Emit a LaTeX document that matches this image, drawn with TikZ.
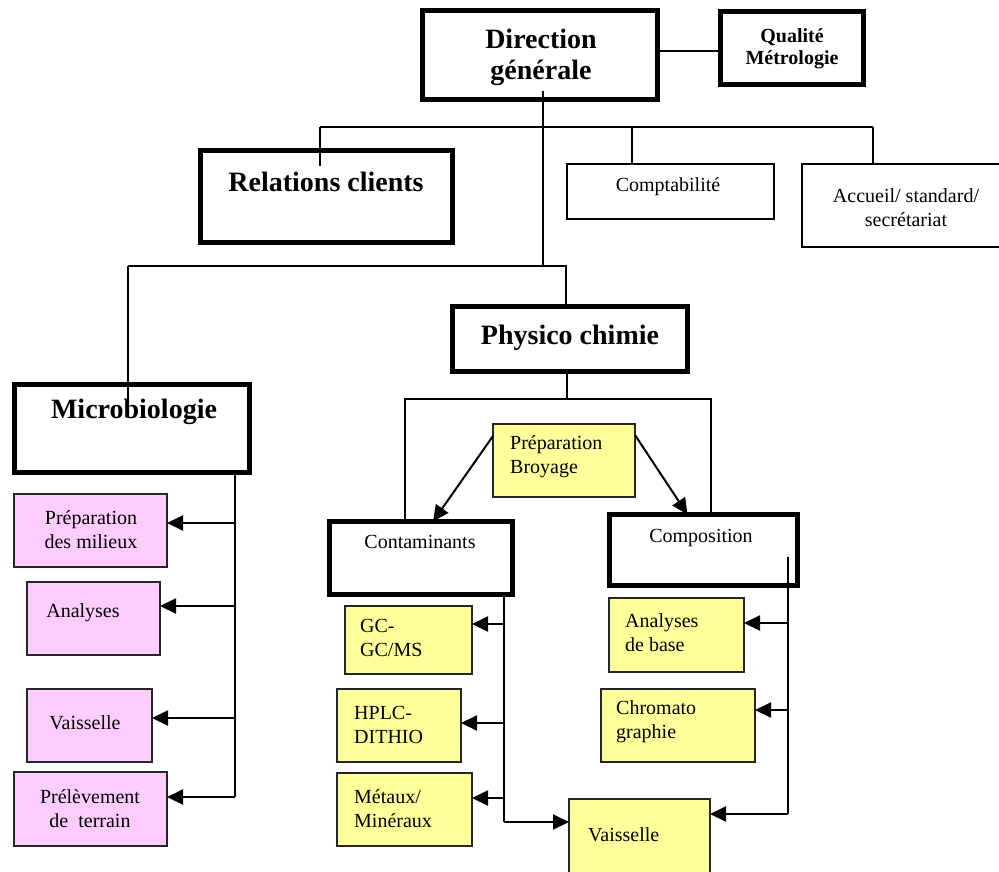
\documentclass[tikz,border=0pt]{standalone}
\usepackage{fontspec}
\setmainfont{Liberation Serif}
\usetikzlibrary{arrows.meta}
\definecolor{yellowbox}{HTML}{FFFF99}
\definecolor{pinkbox}{HTML}{FFCCFF}
\begin{document}
\begin{tikzpicture}[x=1pt,y=-1pt,
  thickbox/.style={draw, line width=5pt, fill=white, inner sep=0pt, outer sep=0pt},
  thinbox/.style={draw, line width=1.6pt, fill=white, inner sep=0pt, outer sep=0pt},
  yelbox/.style={draw=black!85, line width=2.2pt, fill=yellowbox, inner sep=0pt, outer sep=0pt},
  pinkbx/.style={draw=black!85, line width=2.2pt, fill=pinkbox, inner sep=0pt, outer sep=0pt},
  bigtxt/.style={font=\fontsize{28}{31}\selectfont\bfseries, align=center, inner sep=0pt},
  qualtxt/.style={font=\fontsize{20}{22}\selectfont\bfseries, align=center, inner sep=0pt},
  smalltxt/.style={font=\fontsize{20}{24}\selectfont, align=center, inner sep=0pt},
  smallL/.style={font=\fontsize{20}{24}\selectfont, align=left, inner sep=0pt, anchor=west},
  conn/.style={line width=2pt},
  arr/.style={line width=2pt, -{Triangle[length=16pt,width=15pt]}},
]
\useasboundingbox (0,0) rectangle (999,871);

% boxes
\node[thickbox, minimum width=235pt, minimum height=89pt] (dir) at (540,55) {};
\node[thickbox, minimum width=143pt, minimum height=73pt] (qual) at (792,48) {};
\node[thickbox, minimum width=252pt, minimum height=92pt] (rel) at (326.5,196.5) {};
\node[thinbox, minimum width=207pt, minimum height=55pt] (compta) at (670.5,191.5) {};
\node[thinbox, minimum width=202pt, minimum height=83pt] (acc) at (903,205.5) {};
\node[thickbox, minimum width=235pt, minimum height=88pt] (micro) at (132,428.5) {};
\node[thickbox, minimum width=235pt, minimum height=65pt] (phys) at (570,339) {};
\node[yelbox, minimum width=142pt, minimum height=73pt] (prep) at (564,460.5) {};
\node[thickbox, minimum width=183pt, minimum height=73pt] (cont) at (421,558) {};
\node[thickbox, minimum width=188pt, minimum height=71pt] (comp) at (703.5,550) {};

\node[pinkbx, minimum width=153pt, minimum height=73pt] (prepm) at (90.5,530.5) {};
\node[pinkbx, minimum width=133pt, minimum height=73pt] (ana) at (93.5,618.5) {};
\node[pinkbx, minimum width=125pt, minimum height=73pt] (vaisA) at (89.5,725.5) {};
\node[pinkbx, minimum width=153pt, minimum height=74pt] (prel) at (90.5,809) {};

\node[yelbox, minimum width=127pt, minimum height=68pt] (gc) at (408.5,640) {};
\node[yelbox, minimum width=124pt, minimum height=73pt] (hplc) at (399,725.5) {};
\node[yelbox, minimum width=135pt, minimum height=73pt] (met) at (404.5,809.5) {};
\node[yelbox, minimum width=141pt, minimum height=80pt] (vaisB) at (639.5,839) {};
\node[yelbox, minimum width=135pt, minimum height=74pt] (anab) at (676.5,635) {};
\node[yelbox, minimum width=154pt, minimum height=73pt] (chrom) at (678,725.5) {};

% texts
\node[bigtxt] (dirT) at (541,57) {Direction\\générale};
\node[qualtxt] (qualT) at (792,49) {Qualité\\Métrologie};
\node[bigtxt] (relT) at (326,182) {Relations clients};
\node[smalltxt] (comptaT) at (668,187) {Comptabilité};
\node[smalltxt] (accT) at (906,208) {Accueil/ standard/\\secrétariat};
\node[bigtxt] (microT) at (134,412) {Microbiologie};
\node[bigtxt] (physT) at (570,338) {Physico chimie};
\node[smallL] (prepT) at (510,457) {Préparation\\Broyage};
\node[smalltxt] (contT) at (420,542) {Contaminants};
\node[smalltxt] (compT) at (701,538) {Composition};
\node[smalltxt] (prepmT) at (91,530) {Préparation\\des milieux};
\node[smalltxt] (anaT) at (83,613) {Analyses};
\node[smalltxt] (vaisAT) at (85,723) {Vaisselle};
\node[smalltxt] (prelT) at (90,809) {Prélèvement\\de\ \ terrain};
\node[smallL] (gcT) at (360,638) {GC-\\GC/MS};
\node[smallL] (hplcT) at (354,725) {HPLC-\\DITHIO};
\node[smallL] (metT) at (354,809) {Métaux/\\Minéraux};
\node[smallL] (vaisBT) at (588,835) {Vaisselle};
\node[smallL] (anabT) at (625,633) {Analyses\\de base};
\node[smallL] (chromT) at (616,722) {Chromato\\graphie};

% bus coordinates
\coordinate (t0) at (543,127);
\coordinate (t1) at (320,127);
\coordinate (t2) at (873,127);
\coordinate (t3) at (632,127);
\coordinate (m0) at (543,266);
\coordinate (mL) at (128,266);
\coordinate (mR) at (566,266);
\coordinate (p0) at (567,399);
\coordinate (pL) at (405,399);
\coordinate (pR) at (711,399);
\coordinate (v1) at (235,797);
\coordinate (c1) at (504,822);
\coordinate (k1) at (788,814);

% connectors
\draw[conn] ([yshift=4pt]dir.east) -- ([yshift=4pt]dir.east -| qual.west);
\draw[conn] ([yshift=9pt]t0 |- dir.south) -- (m0);
\draw[conn] (t1) -- (t2);
\draw[conn] (t1) -- ([yshift=-15pt]t1 |- rel.north);
\draw[conn] (t3) -- (t3 |- compta.north);
\draw[conn] (t2) -- (t2 |- acc.north);
\draw[conn] (mL) -- (mR) -- (mR |- phys.north);
\draw[conn] (mL) -- ([yshift=-18pt]mL |- micro.north);
\draw[conn] (phys.south -| p0) -- (p0);
\draw[conn] (pL |- cont.north) -- (pL) -- (pR) -- (pR |- comp.north);

\draw[arr] ([yshift=-12pt]prep.north west) -- ([xshift=12pt]cont.north);
\draw[arr] ([yshift=-11pt]prep.north east) -- ([xshift=-16pt]comp.north);

\draw[conn] (v1 |- micro.south) -- (v1);
\draw[arr] ([yshift=7.5pt]prepm.east -| v1) -- ([yshift=7.5pt]prepm.east);
\draw[arr] ([yshift=12.5pt]ana.east -| v1) -- ([yshift=12.5pt]ana.east);
\draw[arr] ([yshift=7.5pt]vaisA.east -| v1) -- ([yshift=7.5pt]vaisA.east);
\draw[arr] (v1) -- ([yshift=12pt]prel.east);

\draw[conn] (c1 |- cont.south) -- (c1);
\draw[arr] (c1) -- (c1 -| vaisB.west);
\draw[arr] ([yshift=16pt]gc.east -| c1) -- ([yshift=16pt]gc.east);
\draw[arr] ([yshift=2.5pt]hplc.east -| c1) -- ([yshift=2.5pt]hplc.east);
\draw[arr] ([yshift=11.5pt]met.east -| c1) -- ([yshift=11.5pt]met.east);

\draw[conn] ([yshift=29pt]k1 |- comp.south) -- (k1);
\draw[arr] (k1) -- (k1 -| vaisB.east);
\draw[arr] ([yshift=12pt]anab.east -| k1) -- ([yshift=12pt]anab.east);
\draw[arr] ([yshift=15.5pt]chrom.east -| k1) -- ([yshift=15.5pt]chrom.east);
\end{tikzpicture}
\end{document}
